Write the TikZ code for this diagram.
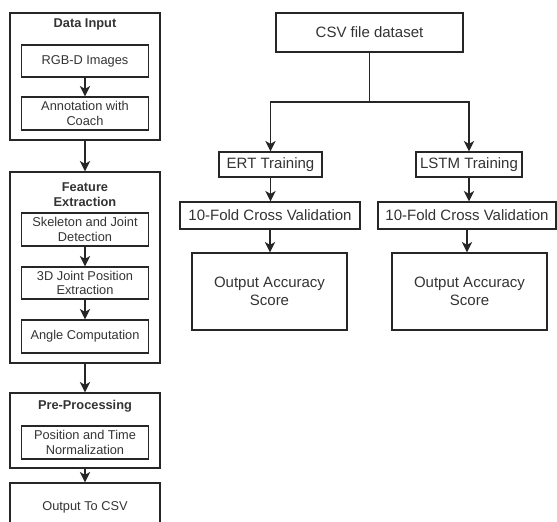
\documentclass[tikz,border=0pt]{standalone}
\usepackage{fontspec}
\setmainfont{Liberation Sans}
\usepackage{xcolor}
\usetikzlibrary{positioning, arrows.meta, calc}
\definecolor{diagline}{HTML}{262626}
\definecolor{diagtext}{HTML}{333333}

\begin{document}
\begin{tikzpicture}[x=1pt, y=-1pt,
  font=\fontsize{12.8}{14.5}\selectfont, text=diagtext,
  st/.style={draw=diagline, line width=1.2pt, inner sep=2pt, align=center, minimum width=127pt, minimum height=33pt},
  grp/.style={draw=diagline, line width=1.2pt, align=center, minimum width=150pt},
  ttl/.style={font=\bfseries\fontsize{12.8}{15}\selectfont, align=center},
  big/.style={draw=diagline, line width=1.2pt, align=center, font=\fontsize{15}{17.7}\selectfont},
  arr/.style={-{Stealth[length=10.5pt, width=10.5pt, inset=3pt]}, line width=1.2pt, draw=diagline}]
\useasboundingbox (0,0) rectangle (557,522);
\clip (0,0) rectangle (557,522);

% left column
\node[grp, minimum height=127pt](datain) at (85,76.5) {};
\node[ttl](datattl) at (85,24) {Data Input};
\node[st, minimum height=32pt](rgbd) at (85,61) {RGB-D Images};
\node[st](annot) at (85,113.5) {Annotation with\\Coach};

\node[grp, minimum height=191pt](featex) at (85,267.5) {};
\node[ttl](featttl) at (85,194.5) {Feature\\Extraction};
\node[st](skel) at (85,229.5) {Skeleton and Joint\\Detection};
\node[st, minimum height=32pt](joint) at (85,283) {3D Joint Position\\Extraction};
\node[st](angle) at (85,336.5) {Angle Computation};

\node[grp, minimum height=75pt](prep) at (85,430.5) {};
\node[ttl](prepttl) at (85,406) {Pre-Processing};
\node[st](posnorm) at (85,442.5) {Position and Time\\Normalization};
\node[grp, minimum height=48pt](csvout) at (85,507) {Output To CSV};

\foreach \frm/\tto in {rgbd/annot, datain/featex, skel/joint, joint/angle, featex/prep, prep/csvout}
  {\draw[arr](\frm.south)--(\tto.north);}

% right side
\node[big, minimum width=187pt, minimum height=39pt](csvds) at (369.5,32.5) {CSV file dataset};
\coordinate (split) at (369.5,102);
\node[big, minimum width=103pt, minimum height=25pt](ert) at (270.5,164.5) {ERT Training};
\node[big, minimum width=106pt, minimum height=25pt](lstm) at (469,164.5) {LSTM Training};
\node[big, minimum width=180pt, minimum height=27pt](cvl) at (270,215.5) {10-Fold Cross Validation};
\node[big, minimum width=178pt, minimum height=27pt](cvr) at (467,215.5) {10-Fold Cross Validation};
\node[big, minimum width=155pt, minimum height=77pt](accl) at (269.5,291.5) {Output Accuracy\\Score};
\node[big, minimum width=155pt, minimum height=77pt](accr) at (469.5,291.5) {Output Accuracy\\Score};

\draw[arr](csvds)--(split)-|(ert);
\draw[arr](split)-|(lstm);
\foreach \frm/\tto in {ert/cvl, cvl/accl, lstm/cvr, cvr/accr}
  {\draw[arr](\frm.south)--(\frm.south |- \tto.north);}

\end{tikzpicture}
\end{document}
